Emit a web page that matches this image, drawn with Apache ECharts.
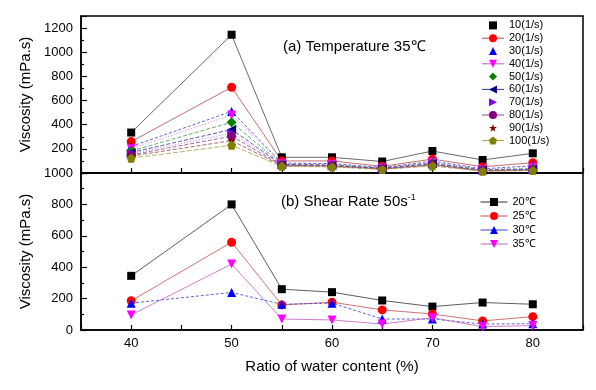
<!DOCTYPE html>
<html>
<head>
<meta charset="utf-8">
<script src="https://cdn.jsdelivr.net/npm/echarts@6/dist/echarts.min.js"></script>
<style>
  html, body { margin: 0; padding: 0; background: #fff; }
  #chart { width: 596px; height: 390px; }
</style>
</head>
<body>
<div id="chart"></div>
<script>
// water content ratio (%)
const ratios = [40, 50, 55, 60, 65, 70, 75, 80];

// (a) temperature 35℃, viscosity per shear rate
const rateNames = ['10(1/s)', '20(1/s)', '30(1/s)', '40(1/s)', '50(1/s)', '60(1/s)', '70(1/s)', '80(1/s)', '90(1/s)', '100(1/s)'];
const rate10 = [335, 1145, 130, 130, 95, 182, 108, 163];
const rate20 = [260, 710, 100, 100, 55, 115, 52, 85];
const rate30 = [220, 510, 82, 78, 45, 98, 35, 60];
const rate40 = [200, 480, 76, 72, 42, 88, 30, 45];
const rate50 = [182, 420, 72, 66, 40, 82, 26, 36];
const rate60 = [170, 360, 69, 63, 37, 77, 23, 31];
const rate70 = [160, 330, 66, 60, 35, 72, 20, 28];
const rate80 = [150, 305, 63, 58, 33, 69, 18, 25];
const rate90 = [140, 268, 60, 55, 32, 65, 16, 22];
const rate100 = [122, 230, 55, 50, 30, 58, 15, 20];

// (b) shear rate 50 1/s, viscosity per temperature
const tempNames = ['20℃', '25℃', '30℃', '35℃'];
const temp20 = [345, 800, 260, 241, 188, 149, 175, 164];
const temp25 = [186, 559, 160, 177, 128, 102, 58, 85];
const temp30 = [171, 239, 164, 171, 70, 70, 38, 40];
const temp35 = [96, 420, 70, 64, 38, 78, 21, 28];

const STAR = 'path://M50,0 L61,35 L98,35 L68,57 L79,91 L50,70 L21,91 L32,57 L2,35 L39,35 Z';
const PENTA = 'path://M50,0 L100,38 L81,100 L19,100 L0,38 Z';
const FONT = 'Liberation Sans';

function pts(ys) {
  return ratios.map((x, i) => [x, ys[i]]);
}

function mkLine(name, ys, idx, color, lineColor, symbol, size, rot, dash) {
  return {
    name,
    type: 'line',
    xAxisIndex: idx,
    yAxisIndex: idx,
    data: pts(ys),
    symbol,
    symbolSize: size,
    symbolRotate: rot,
    itemStyle: { color },
    lineStyle: { color: lineColor, width: 0.8, type: dash },
    z: 3,
  };
}

const topSeries = [
  mkLine(rateNames[0], rate10, 0, '#000000', '#444444', 'rect', 8, 0, 'solid'),
  mkLine(rateNames[1], rate20, 0, '#ff0000', '#b84a4a', 'circle', 9, 0, 'solid'),
  mkLine(rateNames[2], rate30, 0, '#0000ff', '#3a3ad0', 'triangle', 9, 0, [3, 2]),
  mkLine(rateNames[3], rate40, 0, '#ff00ff', '#d050d0', 'triangle', 9, 180, [1, 2]),
  mkLine(rateNames[4], rate50, 0, '#008000', '#3a9a3a', 'diamond', 10, 0, [4, 2]),
  mkLine(rateNames[5], rate60, 0, '#000080', '#30309a', 'triangle', 9, 90, [4, 2]),
  mkLine(rateNames[6], rate70, 0, '#8000ff', '#9a50e0', 'triangle', 9, -90, [1, 2]),
  mkLine(rateNames[7], rate80, 0, '#800080', '#904090', 'circle', 9, 0, [4, 2]),
  mkLine(rateNames[8], rate90, 0, '#800000', '#a04040', STAR, 9, 0, [4, 2]),
  mkLine(rateNames[9], rate100, 0, '#808000', '#a0a040', PENTA, 9, 0, [5, 2]),
];

const bottomSeries = [
  mkLine(tempNames[0], temp20, 1, '#000000', '#333333', 'rect', 8, 0, 'solid'),
  mkLine(tempNames[1], temp25, 1, '#ff0000', '#c05050', 'circle', 9, 0, 'solid'),
  mkLine(tempNames[2], temp30, 1, '#0000ff', '#3a3ad0', 'triangle', 9, 0, [3, 2]),
  mkLine(tempNames[3], temp35, 1, '#ff00ff', '#c060c0', 'triangle', 9, 180, 'solid'),
];

function xAxisCfg(idx, showLabel) {
  return {
    type: 'value',
    gridIndex: idx,
    min: 35,
    max: 85,
    interval: 5,
    axisLine: { show: true, onZero: false, lineStyle: { color: '#000', width: 1.5 } },
    axisTick: { show: true, inside: true, length: 5, lineStyle: { color: '#000', width: 1.2 } },
    axisLabel: {
      show: showLabel,
      color: '#000',
      fontFamily: FONT,
      fontSize: 13,
      margin: 7,
      formatter: (v) => (v % 10 === 0 ? String(v) : ''),
    },
    splitLine: { show: false },
    name: showLabel ? 'Ratio of water content (%)' : '',
    nameLocation: 'middle',
    nameGap: 29,
    nameTextStyle: { color: '#000', fontFamily: FONT, fontSize: 15 },
  };
}

function yAxisCfg(idx, max, hideMin, hideMax) {
  return {
    type: 'value',
    gridIndex: idx,
    min: 0,
    max,
    interval: 200,
    axisLine: { show: true, lineStyle: { color: '#000', width: 1.5 } },
    axisTick: { show: true, inside: true, length: 6, lineStyle: { color: '#000', width: 1.2 } },
    minorTick: { show: true, splitNumber: 2, length: 3, lineStyle: { color: '#000', width: 1.2 } },
    axisLabel: {
      color: '#000',
      fontFamily: FONT,
      fontSize: 13,
      margin: 8,
      showMinLabel: !hideMin,
      showMaxLabel: !hideMax,
      formatter: (v) => String(v),
    },
    splitLine: { show: false },
    name: 'Viscosity (mPa.s)',
    nameLocation: 'middle',
    nameGap: 44,
    nameTextStyle: { color: '#000', fontFamily: FONT, fontSize: 15 },
  };
}

// legend icons: odd rows show only the marker, the rest a solid line with marker
const hiddenLine = { opacity: 0 };
const solidLine = { type: 'solid', width: 1 };

const option = {
  backgroundColor: '#fff',
  animation: false,
  grid: [
    { left: 81, top: 16, width: 502, height: 157, show: true, borderColor: '#000', borderWidth: 1.5 },
    { left: 81, top: 173, width: 502, height: 157, show: true, borderColor: '#000', borderWidth: 1.5 },
  ],
  xAxis: [xAxisCfg(0, false), xAxisCfg(1, true)],
  yAxis: [yAxisCfg(0, 1300, true, true), yAxisCfg(1, 1000, false, false)],
  legend: [
    {
      orient: 'vertical',
      left: 481,
      top: 19,
      padding: 0,
      itemWidth: 22,
      itemHeight: 10,
      itemGap: 0,
      textStyle: { fontFamily: FONT, fontSize: 11, lineHeight: 12.8, color: '#000' },
      data: rateNames.map((n, i) => ({ name: n, lineStyle: i % 2 === 0 ? hiddenLine : solidLine })),
    },
    {
      orient: 'vertical',
      left: 480,
      top: 195,
      padding: 0,
      itemWidth: 27,
      itemHeight: 10,
      itemGap: 0,
      textStyle: { fontFamily: FONT, fontSize: 11, lineHeight: 14, color: '#000' },
      data: tempNames.map((n) => ({ name: n, lineStyle: solidLine })),
    },
  ],
  graphic: [
    {
      type: 'text',
      left: 283,
      top: 39,
      style: { text: '(a) Temperature 35℃', fontFamily: FONT, fontSize: 15, fill: '#000' },
    },
    {
      type: 'text',
      left: 281,
      top: 193,
      style: {
        text: '(b) Shear Rate 50s{s|-1}',
        fontFamily: FONT,
        fontSize: 15,
        fill: '#000',
        rich: {
          s: { fontFamily: FONT, fontSize: 9, fill: '#000', padding: [0, 0, 9, 0] },
        },
      },
    },
  ],
  series: topSeries.concat(bottomSeries),
};

const chart = echarts.init(document.getElementById('chart'), null, { renderer: 'canvas' });
chart.setOption(option);
</script>
</body>
</html>
